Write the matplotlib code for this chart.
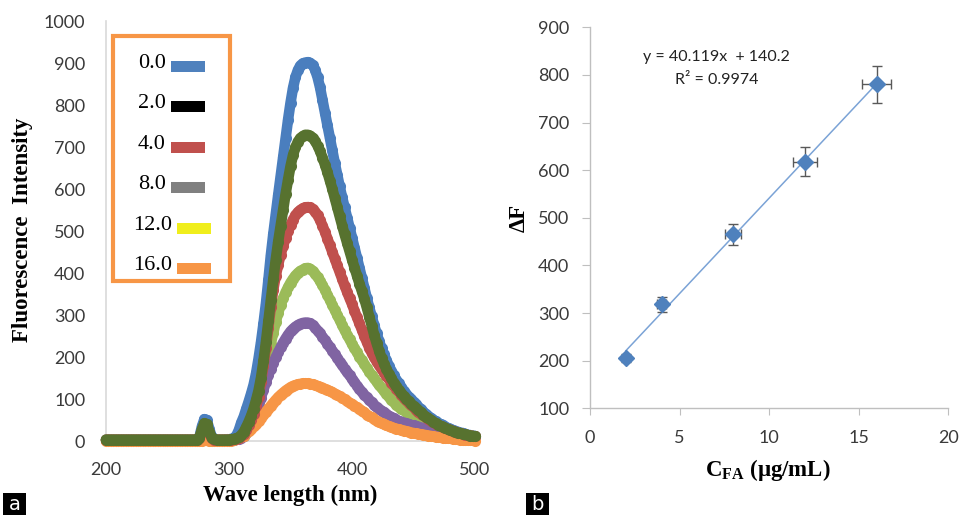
import numpy as np
import matplotlib
matplotlib.use("Agg")
from matplotlib import pyplot as plt
from matplotlib.patches import Rectangle

plt.rcParams['mathtext.fontset'] = 'custom'
plt.rcParams['mathtext.rm'] = 'Liberation Serif'
plt.rcParams['mathtext.bf'] = 'Liberation Serif:bold'

# ---- panel a: emission spectra, one value every 2 nm from 200 to 500 nm ----
wavelength = np.arange(200, 501, 2)

fl_0 = [3, 3, 3, 3, 3, 3, 3, 3, 3, 3,
        3, 3, 3, 3, 3, 3, 3, 3, 3, 3,
        3, 3, 3, 3, 3, 3, 3, 3, 3, 3,
        3, 3, 3, 3, 3, 3, 3, 3, 10, 35,
        52, 50, 28, 10, 4, 3, 3, 3, 3, 4,
        4, 5, 7, 13, 26, 44, 58, 76, 94, 113,
        134, 161, 196, 235, 279, 327, 383, 442, 493, 540,
        586, 631, 676, 721, 765, 805, 840, 866, 883, 894,
        899, 901, 902, 900, 895, 884, 866, 842, 812, 782,
        752, 722, 692, 662, 634, 606, 580, 556, 532, 508,
        484, 460, 436, 412, 388, 364, 341, 318, 297, 276,
        256, 238, 221, 206, 192, 179, 167, 156, 146, 137,
        128, 120, 112, 105, 99, 93, 87, 81, 76, 70,
        64, 59, 55, 51, 47, 43, 40, 37, 34, 31,
        29, 26, 24, 22, 20, 19, 17, 15, 14, 13,
        12]

fl_2 = [3, 3, 3, 3, 3, 3, 3, 3, 3, 3,
        3, 3, 3, 3, 3, 3, 3, 3, 3, 3,
        3, 3, 3, 3, 3, 3, 3, 3, 3, 3,
        3, 3, 3, 3, 3, 3, 3, 3, 8, 28,
        42, 40, 22, 8, 4, 3, 3, 3, 3, 3,
        3, 4, 5, 6, 9, 14, 22, 33, 46, 60,
        77, 97, 120, 150, 190, 235, 285, 335, 385, 432,
        475, 513, 550, 588, 622, 654, 680, 699, 713, 721,
        726, 729, 729, 727, 722, 714, 703, 690, 675, 658,
        640, 620, 600, 578, 556, 535, 513, 492, 472, 452,
        432, 413, 394, 375, 357, 339, 318, 296, 274, 253,
        233, 215, 198, 184, 171, 160, 149, 139, 130, 122,
        114, 107, 101, 95, 89, 83, 78, 73, 68, 63,
        58, 54, 50, 46, 42, 39, 36, 34, 31, 28,
        26, 24, 22, 20, 19, 17, 16, 14, 13, 12,
        11]

fl_4 = [3, 3, 3, 3, 3, 3, 3, 3, 3, 3,
        3, 3, 3, 3, 3, 3, 3, 3, 3, 3,
        3, 3, 3, 3, 3, 3, 3, 3, 3, 3,
        3, 3, 3, 3, 3, 3, 3, 3, 7, 24,
        36, 34, 18, 6, 3, 3, 3, 3, 3, 3,
        3, 3, 4, 5, 7, 11, 17, 26, 37, 50,
        65, 83, 104, 140, 178, 222, 270, 318, 360, 393,
        420, 444, 465, 483, 499, 514, 527, 537, 545, 550,
        554, 556, 557, 556, 552, 546, 537, 526, 513, 498,
        482, 466, 450, 434, 418, 402, 386, 370, 355, 340,
        326, 310, 295, 280, 265, 250, 236, 222, 210, 199,
        189, 180, 171, 163, 155, 147, 139, 131, 124, 117,
        110, 103, 97, 91, 85, 80, 75, 70, 65, 61,
        56, 52, 48, 45, 41, 38, 35, 33, 30, 28,
        26, 24, 22, 20, 18, 17, 15, 14, 13, 12,
        11]

fl_8 = [3, 3, 3, 3, 3, 3, 3, 3, 3, 3,
        3, 3, 3, 3, 3, 3, 3, 3, 3, 3,
        3, 3, 3, 3, 3, 3, 3, 3, 3, 3,
        3, 3, 3, 3, 3, 3, 3, 3, 6, 20,
        30, 28, 15, 5, 3, 3, 3, 3, 3, 3,
        3, 3, 4, 5, 6, 9, 13, 19, 27, 38,
        52, 70, 92, 118, 148, 180, 207, 232, 258, 283,
        305, 324, 340, 354, 366, 377, 386, 394, 400, 405,
        408, 411, 412, 410, 405, 398, 390, 381, 371, 360,
        348, 336, 324, 312, 300, 288, 276, 264, 253, 242,
        231, 221, 211, 201, 192, 183, 174, 165, 157, 149,
        141, 133, 126, 119, 112, 105, 98, 92, 86, 81,
        77, 73, 69, 65, 62, 59, 56, 53, 50, 47,
        45, 42, 40, 37, 35, 33, 31, 29, 27, 25,
        23, 22, 20, 19, 18, 16, 15, 14, 13, 12,
        11]

fl_12 = [2, 2, 2, 2, 2, 2, 2, 2, 2, 2,
         2, 2, 2, 2, 2, 2, 2, 2, 2, 2,
         2, 2, 2, 2, 2, 2, 2, 2, 2, 2,
         2, 2, 2, 2, 2, 2, 2, 2, 5, 15,
         24, 22, 12, 4, 2, 2, 2, 2, 2, 2,
         2, 2, 3, 4, 5, 8, 12, 18, 26, 36,
         48, 63, 82, 103, 122, 140, 157, 172, 186, 199,
         211, 223, 234, 244, 253, 261, 267, 272, 276, 279,
         281, 282, 282, 280, 276, 270, 263, 256, 248, 240,
         232, 223, 215, 206, 198, 189, 181, 172, 164, 156,
         148, 140, 132, 124, 117, 110, 104, 98, 92, 86,
         80, 76, 72, 68, 64, 60, 57, 54, 51, 48,
         46, 44, 42, 40, 38, 37, 35, 34, 32, 31,
         30, 28, 27, 26, 24, 23, 22, 21, 20, 19,
         18, 17, 16, 15, 14, 13, 12, 11, 11, 10,
         9]

fl_16 = [0, 0, 0, 0, 0, 0, 0, 0, 0, 0,
         0, 0, 0, 0, 0, 0, 0, 0, 0, 0,
         0, 0, 0, 0, 0, 0, 0, 0, 0, 0,
         0, 0, 0, 0, 0, 0, 0, 0, 0, 1,
         2, 2, 1, 0, 0, 0, 0, 0, 1, 1,
         1, 1, 2, 4, 6, 9, 13, 18, 23, 29,
         35, 41, 47, 54, 62, 70, 77, 84, 91, 98,
         104, 110, 115, 120, 124, 128, 131, 133, 135, 136,
         137, 137, 137, 136, 135, 133, 131, 129, 127, 124,
         122, 119, 116, 113, 110, 106, 103, 99, 95, 91,
         88, 84, 80, 76, 72, 68, 63, 59, 56, 52,
         48, 45, 42, 40, 37, 35, 33, 31, 29, 28,
         26, 25, 23, 22, 20, 19, 18, 17, 16, 15,
         14, 13, 12, 11, 10, 9, 9, 8, 7, 6,
         6, 5, 4, 4, 3, 3, 2, 2, 2, 2,
         1]

# legend as it appears in the figure (its swatch colours differ from the curves)
leg_labels = ["0.0", "2.0", "4.0", "8.0", "12.0", "16.0"]
leg_colors = ["#4F81BD", "#000000", "#C0504D", "#808080", "#F0EE1C", "#F79646"]

# ---- panel b: calibration ----
conc = [2, 4, 8, 12, 16]
delta_f = [205, 318, 465, 618, 780]
delta_f_err = [8, 16, 23, 30, 38]
conc_err = [0.1, 0.25, 0.45, 0.65, 0.8]
eq_text = "y = 40.119x  + 140.2"
r2_text = "R\u00b2 = 0.9974"

W, H = 960, 515
fig = plt.figure(figsize=(W / 100, H / 100), dpi=100)


def px(x, y):
    # pixel position (from top-left) -> figure fraction
    return x / W, 1 - y / H


tick_font = dict(family="Lato", size=13, color="#3a3a3a")
label_font = dict(family="Liberation Serif", weight="bold", size=16.5)

# panel a
ax1 = fig.add_axes([106 / W, 74 / H, 369 / W, 420 / H])
curves = [(fl_0, "#4A7EBE"), (fl_8, "#9BBB59"), (fl_12, "#8064A2"),
          (fl_16, "#F79646"), (fl_4, "#C0504D"), (fl_2, "#57722F")]
for vals, col in curves:
    ax1.plot(wavelength, vals, color=col, lw=7.6, marker="o", ms=8, mew=0,
             solid_capstyle="round", solid_joinstyle="round", clip_on=False)
ax1.set_xlim(200, 500)
ax1.set_ylim(0, 1000)
ax1.set_xticks(range(200, 501, 100))
ax1.set_yticks(range(0, 1001, 100))
for s in ["top", "right"]:
    ax1.spines[s].set_visible(False)
for s in ["left", "bottom"]:
    ax1.spines[s].set_color("#D9D9D9")
    ax1.spines[s].set_linewidth(1.2)
    ax1.spines[s].set_zorder(0)
ax1.tick_params(length=0, pad=15)
for t in ax1.get_xticklabels() + ax1.get_yticklabels():
    t.set_fontfamily(tick_font["family"])
    t.set_fontsize(tick_font["size"])
    t.set_color(tick_font["color"])
ax1.set_ylabel("Fluorescence  Intensity", va="center", **label_font)
ax1.yaxis.set_label_coords((23 - 106) / 369, (441 - 230) / 420)
ax1.set_xlabel("Wave length (nm)", va="center", **label_font)
ax1.xaxis.set_label_coords((290 - 106) / 369, (441 - 495) / 420)

# legend box
x0, y0 = px(113, 281)
fig.patches.append(Rectangle((x0, y0), 117 / W, 245 / H, transform=fig.transFigure,
                             facecolor="white", edgecolor="#F79646", lw=3, zorder=5))
for i, (lab, col) in enumerate(zip(leg_labels, leg_colors)):
    base = 68 + 40.4 * i
    bar_left = 171 if len(lab) == 3 else 177
    tx, ty = px(bar_left - 5, base)
    fig.text(tx, ty, lab, ha="right", va="baseline", family="Liberation Serif",
             size=16, color="black", zorder=6)
    bx, by = px(bar_left, base + 4)
    fig.patches.append(Rectangle((bx, by), 34 / W, 11 / H, transform=fig.transFigure,
                                 facecolor=col, edgecolor="none", zorder=6))

# panel b
ax2 = fig.add_axes([590 / W, (H - 408.3) / H, 358.3 / W, 381 / H])
ax2.plot(conc, np.polyval(np.polyfit(conc, delta_f, 1), conc), color="#7BA3D6", lw=1.1, zorder=2)
ax2.errorbar(conc, delta_f, yerr=delta_f_err, xerr=conc_err, fmt="D", color="#4F81BD",
             ms=8, ecolor="#595959", elinewidth=1, capsize=3.5, capthick=1, zorder=3)
ax2.set_xlim(0, 20)
ax2.set_ylim(100, 900)
ax2.set_xticks(range(0, 21, 5))
ax2.set_yticks(range(100, 901, 100))
for s in ["top", "right"]:
    ax2.spines[s].set_visible(False)
for s in ["left", "bottom"]:
    ax2.spines[s].set_color("#BFBFBF")
    ax2.spines[s].set_linewidth(1)
ax2.tick_params(axis="y", length=5.5, color="#BFBFBF", pad=9.5)
ax2.tick_params(axis="x", length=5, color="#BFBFBF", pad=10.5)
for t in ax2.get_xticklabels() + ax2.get_yticklabels():
    t.set_fontfamily(tick_font["family"])
    t.set_fontsize(tick_font["size"])
    t.set_color(tick_font["color"])
ax2.text(7.05, 838, eq_text, ha="center", va="center", family="Lato", size=11.5, color="#222222")
ax2.text(7.1, 789, r2_text, ha="center", va="center", family="Lato", size=11.5, color="#222222")
ax2.set_ylabel("\u0394F", va="center", **label_font)
ax2.yaxis.set_label_coords((519 - 590) / 358.3, (408.3 - 218) / 381)
ax2.set_xlabel("C$_{\\mathbf{FA}}$ (\u03bcg/mL)", va="center", **label_font)
ax2.xaxis.set_label_coords((768 - 590) / 358.3, (408.3 - 470) / 381)

# panel letters
for lab, left in [("a", 3), ("b", 526)]:
    lx, ly = px(left, 515)
    fig.patches.append(Rectangle((lx, ly), 23 / W, 22 / H, transform=fig.transFigure,
                                 facecolor="black", edgecolor="none"))
    cx, cy = px(left + 11.5, 504)
    fig.text(cx, cy, lab, ha="center", va="center", family="DejaVu Sans",
             size=14, color="white")

fig.savefig("out.png", dpi=100)
